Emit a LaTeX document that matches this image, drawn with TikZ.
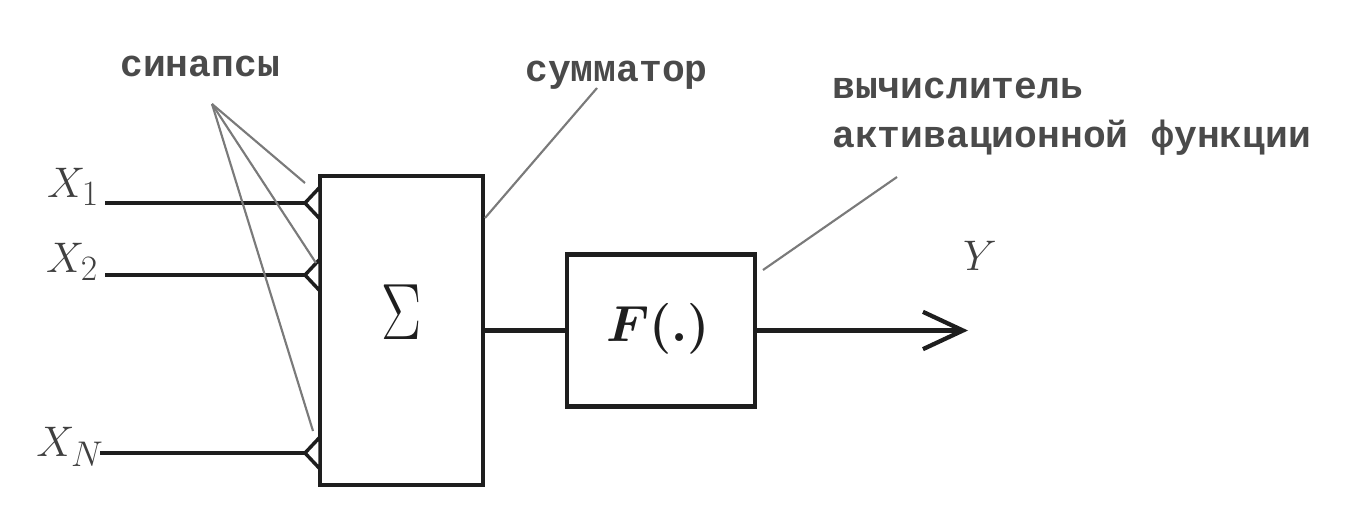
\documentclass[tikz,border=0pt]{standalone}
\usepackage{fontspec}
\newfontfamily\lblfont{Liberation Mono}
\usetikzlibrary{arrows.meta}
\definecolor{ink}{HTML}{1E1E1E}
\definecolor{leader}{HTML}{7A7A7A}
\definecolor{captext}{HTML}{4A4A4A}
% math symbols enlarged past the largest fixed math size
\newcommand{\mlabel}[1]{\scalebox{1.29}{$#1$}}
\begin{document}
\begin{tikzpicture}[x=0.75pt,y=-0.75pt,
  blockbox/.style={draw=ink, line width=3.2pt, inner sep=0pt},
  wire/.style={draw=ink, line width=3.2pt},
  synapse/.style={draw=ink, line width=2.6pt, fill=white, line join=miter},
  leaderline/.style={draw=leader, line width=1.6pt},
  caption/.style={font=\lblfont\bfseries\fontsize{28.5}{36}\selectfont, text=captext, inner sep=0pt, anchor=base west},
  mathlbl/.style={font=\Huge, text=ink!85, inner sep=0pt},
  boldlbl/.style={font=\Huge\boldmath, text=ink, inner sep=0pt}]
\useasboundingbox (0,0) rectangle (1352,527);

% adder and activation blocks
\node[blockbox, minimum width=122.25pt, minimum height=231.75pt] (sum) at (401.5,330.5) {};
\node[font=\Huge, inner sep=0pt, text=ink] (sigma) at (402,312) {\scalebox{1.81}[2.41]{$\Sigma$}};
\node[blockbox, minimum width=141pt, minimum height=114pt] (f) at (661,330.5) {};
\node[boldlbl] (flbl) at (658,329) {\scalebox{1.53}{$F(.)$}};

% inputs
\node[mathlbl] (x1) at (73,187) {\mlabel{X_1}};
\node[mathlbl] (x2) at (72,262) {\mlabel{X_2}};
\node[mathlbl] (xn) at (70,447) {\mlabel{X_N}};
\coordinate (in1) at (105,203);
\coordinate (in2) at (105,275);
\coordinate (inN) at (100,453);
\coordinate (syn1) at (305,203);
\coordinate (syn2) at (305,275);
\coordinate (synN) at (305,453);
\draw[wire] (in1) -- (syn1);
\draw[wire] (in2) -- (syn2);
\draw[wire] (inN) -- (synN);
\draw[synapse] (syn1) -- ++(15,-16) -- ++(0,32) -- cycle;
\draw[synapse] (syn2) -- ++(15,-16) -- ++(0,32) -- cycle;
\draw[synapse] (synN) -- ++(15,-16) -- ++(0,32) -- cycle;

% signal path
\coordinate (yend) at (968,330.5);
\draw[wire] (sum.east) -- (f.west);
\draw[wire, -{Straight Barb[length=30pt,width=28pt]}] (f.east) -- (yend);
\node[mathlbl] (ylbl) at (980,256) {\mlabel{Y}};

% captions
\node[caption] (capsyn) at (120,77) {синапсы};
\node[caption] (capsum) at (525,82) {сумматор};
\node[caption] (capact1) at (832,99) {вычислитель};
\node[caption] (capact2) at (832,148) {активационной функции};

% leader lines
\coordinate (syntip) at (212,104);
\coordinate (sumtip) at (597,88);
\coordinate (acttip) at (897,177);
\coordinate (synend1) at (305,183);
\coordinate (synend2) at (316,263);
\coordinate (synend3) at (313,431);
\coordinate (sumend) at (485,218);
\coordinate (actend) at (763,270);
\draw[leaderline] (syntip) -- (synend1);
\draw[leaderline] (syntip) -- (synend2);
\draw[leaderline] (syntip) -- (synend3);
\draw[leaderline] (sumtip) -- (sumend);
\draw[leaderline] (acttip) -- (actend);
\end{tikzpicture}
\end{document}
